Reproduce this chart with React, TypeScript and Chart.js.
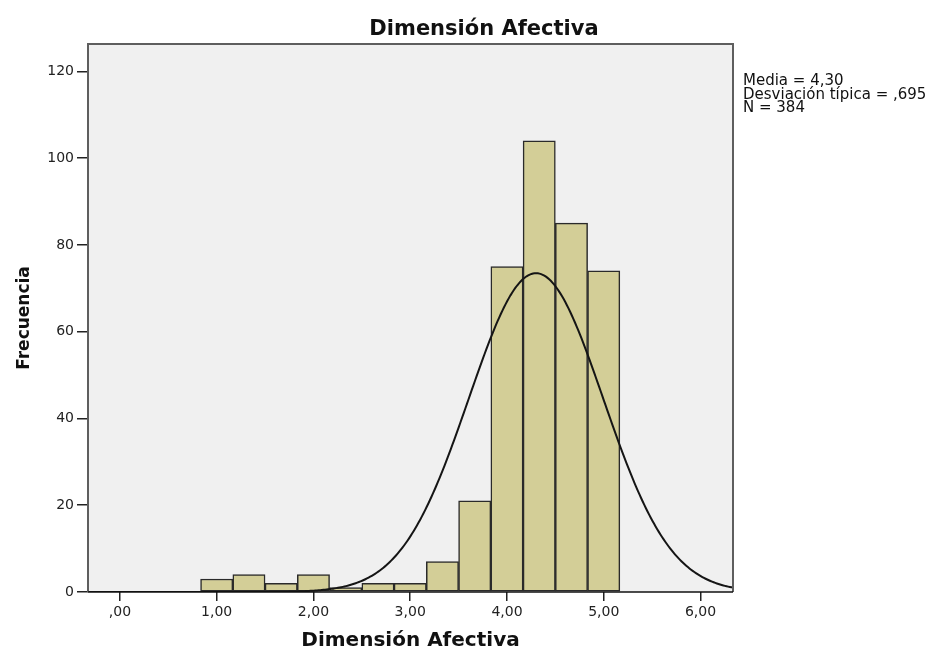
import React, { useEffect, useRef } from 'react';
import { Chart, registerables } from 'chart.js';

Chart.register(...registerables);

// ---- data ----
const BIN_CENTERS = [1.0, 1.3333, 1.6667, 2.0, 2.3333, 2.6667, 3.0, 3.3333, 3.6667, 4.0, 4.3333, 4.6667, 5.0];
const FREQUENCIES = [3, 4, 2, 4, 1, 2, 2, 7, 21, 75, 104, 85, 74];
const X_TICKS = [0, 1, 2, 3, 4, 5, 6];
const X_TICK_LABELS = [',00', '1,00', '2,00', '3,00', '4,00', '5,00', '6,00'];
const Y_TICKS = [0, 20, 40, 60, 80, 100, 120];
const STATS_LINES = ['Media = 4,30', 'Desviación típica = ,695', 'N = 384'];
const CHART_TITLE = 'Dimensión Afectiva';
const X_TITLE = 'Dimensión Afectiva';
const Y_TITLE = 'Frecuencia';
const MEAN = 4.3;
const SD = 0.695;
const N = 384;
const BIN_WIDTH = 1 / 3;
const X_MIN = -0.33;
const X_MAX = 6.336;
const Y_MAX = 126.3;

// fitted normal curve defined by the displayed statistics
function normalCurve() {
  const pts: { x: number; y: number }[] = [];
  const steps = 400;
  for (let i = 0; i <= steps; i++) {
    const x = X_MIN + ((X_MAX - X_MIN) * i) / steps;
    const z = (x - MEAN) / SD;
    const y = (N * BIN_WIDTH) / (SD * Math.sqrt(2 * Math.PI)) * Math.exp(-0.5 * z * z);
    pts.push({ x, y });
  }
  return pts;
}

const FONT = 'DejaVu Sans';

const decorPlugin = {
  id: 'decor',
  beforeDraw(chart: any) {
    const { ctx, chartArea: a, width, height } = chart;
    ctx.save();
    ctx.fillStyle = '#ffffff';
    ctx.fillRect(0, 0, width, height);
    ctx.fillStyle = '#F0F0F0';
    ctx.fillRect(a.left, a.top, a.right - a.left, a.bottom - a.top);
    ctx.restore();
  },
  afterDraw(chart: any) {
    const { ctx, chartArea: a } = chart;
    ctx.save();
    // frame
    ctx.strokeStyle = '#5e5e5e';
    ctx.lineWidth = 2;
    ctx.beginPath();
    ctx.moveTo(a.left, a.bottom);
    ctx.lineTo(a.left, a.top);
    ctx.lineTo(a.right, a.top);
    ctx.lineTo(a.right, a.bottom);
    ctx.stroke();
    ctx.strokeStyle = '#111111';
    ctx.lineWidth = 1.5;
    ctx.beginPath();
    ctx.moveTo(a.left, a.bottom);
    ctx.lineTo(a.right, a.bottom);
    ctx.stroke();

    ctx.fillStyle = '#111111';
    // title
    ctx.font = `bold 21px "${FONT}"`;
    ctx.textAlign = 'center';
    ctx.textBaseline = 'alphabetic';
    ctx.fillText(CHART_TITLE, 484, 35);
    // x title
    ctx.font = `bold 20px "${FONT}"`;
    ctx.fillText(X_TITLE, (a.left + a.right) / 2, 646);
    // y title
    ctx.save();
    ctx.translate(29, (a.top + a.bottom) / 2);
    ctx.rotate(-Math.PI / 2);
    ctx.font = `bold 17px "${FONT}"`;
    ctx.textAlign = 'center';
    ctx.fillText(Y_TITLE, 0, 0);
    ctx.restore();
    // stats
    ctx.font = `15px "${FONT}"`;
    ctx.textAlign = 'left';
    const baselines = [85, 98.5, 112];
    STATS_LINES.forEach((t, i) => ctx.fillText(t, 743, baselines[i]));
    ctx.restore();
  },
};

export default function App() {
  const ref = useRef<HTMLCanvasElement | null>(null);
  useEffect(() => {
    document.body.style.margin = '0';
    const canvas = ref.current;
    if (!canvas) return;
    const bars = BIN_CENTERS.map((x, i) => ({ x, y: FREQUENCIES[i] }));
    const chart = new Chart(canvas, {
      type: 'bar',
      data: {
        datasets: [
          {
            type: 'line',
            data: normalCurve(),
            borderColor: '#151515',
            borderWidth: 2,
            pointRadius: 0,
            fill: false,
            tension: 0,
            order: 0,
          } as any,
          {
            type: 'bar',
            data: bars,
            backgroundColor: '#D3CE97',
            borderColor: '#2a2a2a',
            borderWidth: 1.5,
            borderSkipped: false,
            barPercentage: 1,
            categoryPercentage: 1,
            grouped: false,
            order: 1,
          } as any,
        ],
      },
      options: {
        responsive: false,
        animation: false,
        layout: { padding: { left: 0, top: 44, right: 195, bottom: 0 } },
        plugins: {
          legend: { display: false },
          tooltip: { enabled: false },
          title: { display: false },
        },
        scales: {
          x: {
            type: 'linear',
            min: X_MIN,
            max: X_MAX,
            offset: false,
            grid: { display: true, drawOnChartArea: false, drawTicks: true, tickLength: 9, color: '#222222', lineWidth: 1.5, offset: false },
            border: { display: false },
            ticks: {
              autoSkip: false,
              maxRotation: 0,
              padding: 3,
              color: '#222222',
              font: { family: FONT, size: 14 },
              callback: (v: any) => {
                const i = X_TICKS.indexOf(Number(v));
                return i >= 0 ? X_TICK_LABELS[i] : '';
              },
            },
            afterBuildTicks: (s: any) => {
              s.ticks = X_TICKS.map((v) => ({ value: v }));
            },
            afterFit: (s: any) => {
              s.height = 59;
            },
          },
          y: {
            type: 'linear',
            min: 0,
            max: Y_MAX,
            grid: { display: true, drawOnChartArea: false, drawTicks: true, tickLength: 11, color: '#222222', lineWidth: 1.5 },
            border: { display: false },
            ticks: {
              autoSkip: false,
              padding: 3,
              color: '#222222',
              font: { family: FONT, size: 14 },
              callback: (v: any) => String(v),
            },
            afterBuildTicks: (s: any) => {
              s.ticks = Y_TICKS.map((v) => ({ value: v }));
            },
            afterFit: (s: any) => {
              s.width = 88;
            },
          },
        },
      } as any,
      plugins: [decorPlugin],
    });
    return () => chart.destroy();
  }, []);
  return <canvas ref={ref} width={928} height={651} style={{ display: 'block', width: 928, height: 651 }} />;
}
